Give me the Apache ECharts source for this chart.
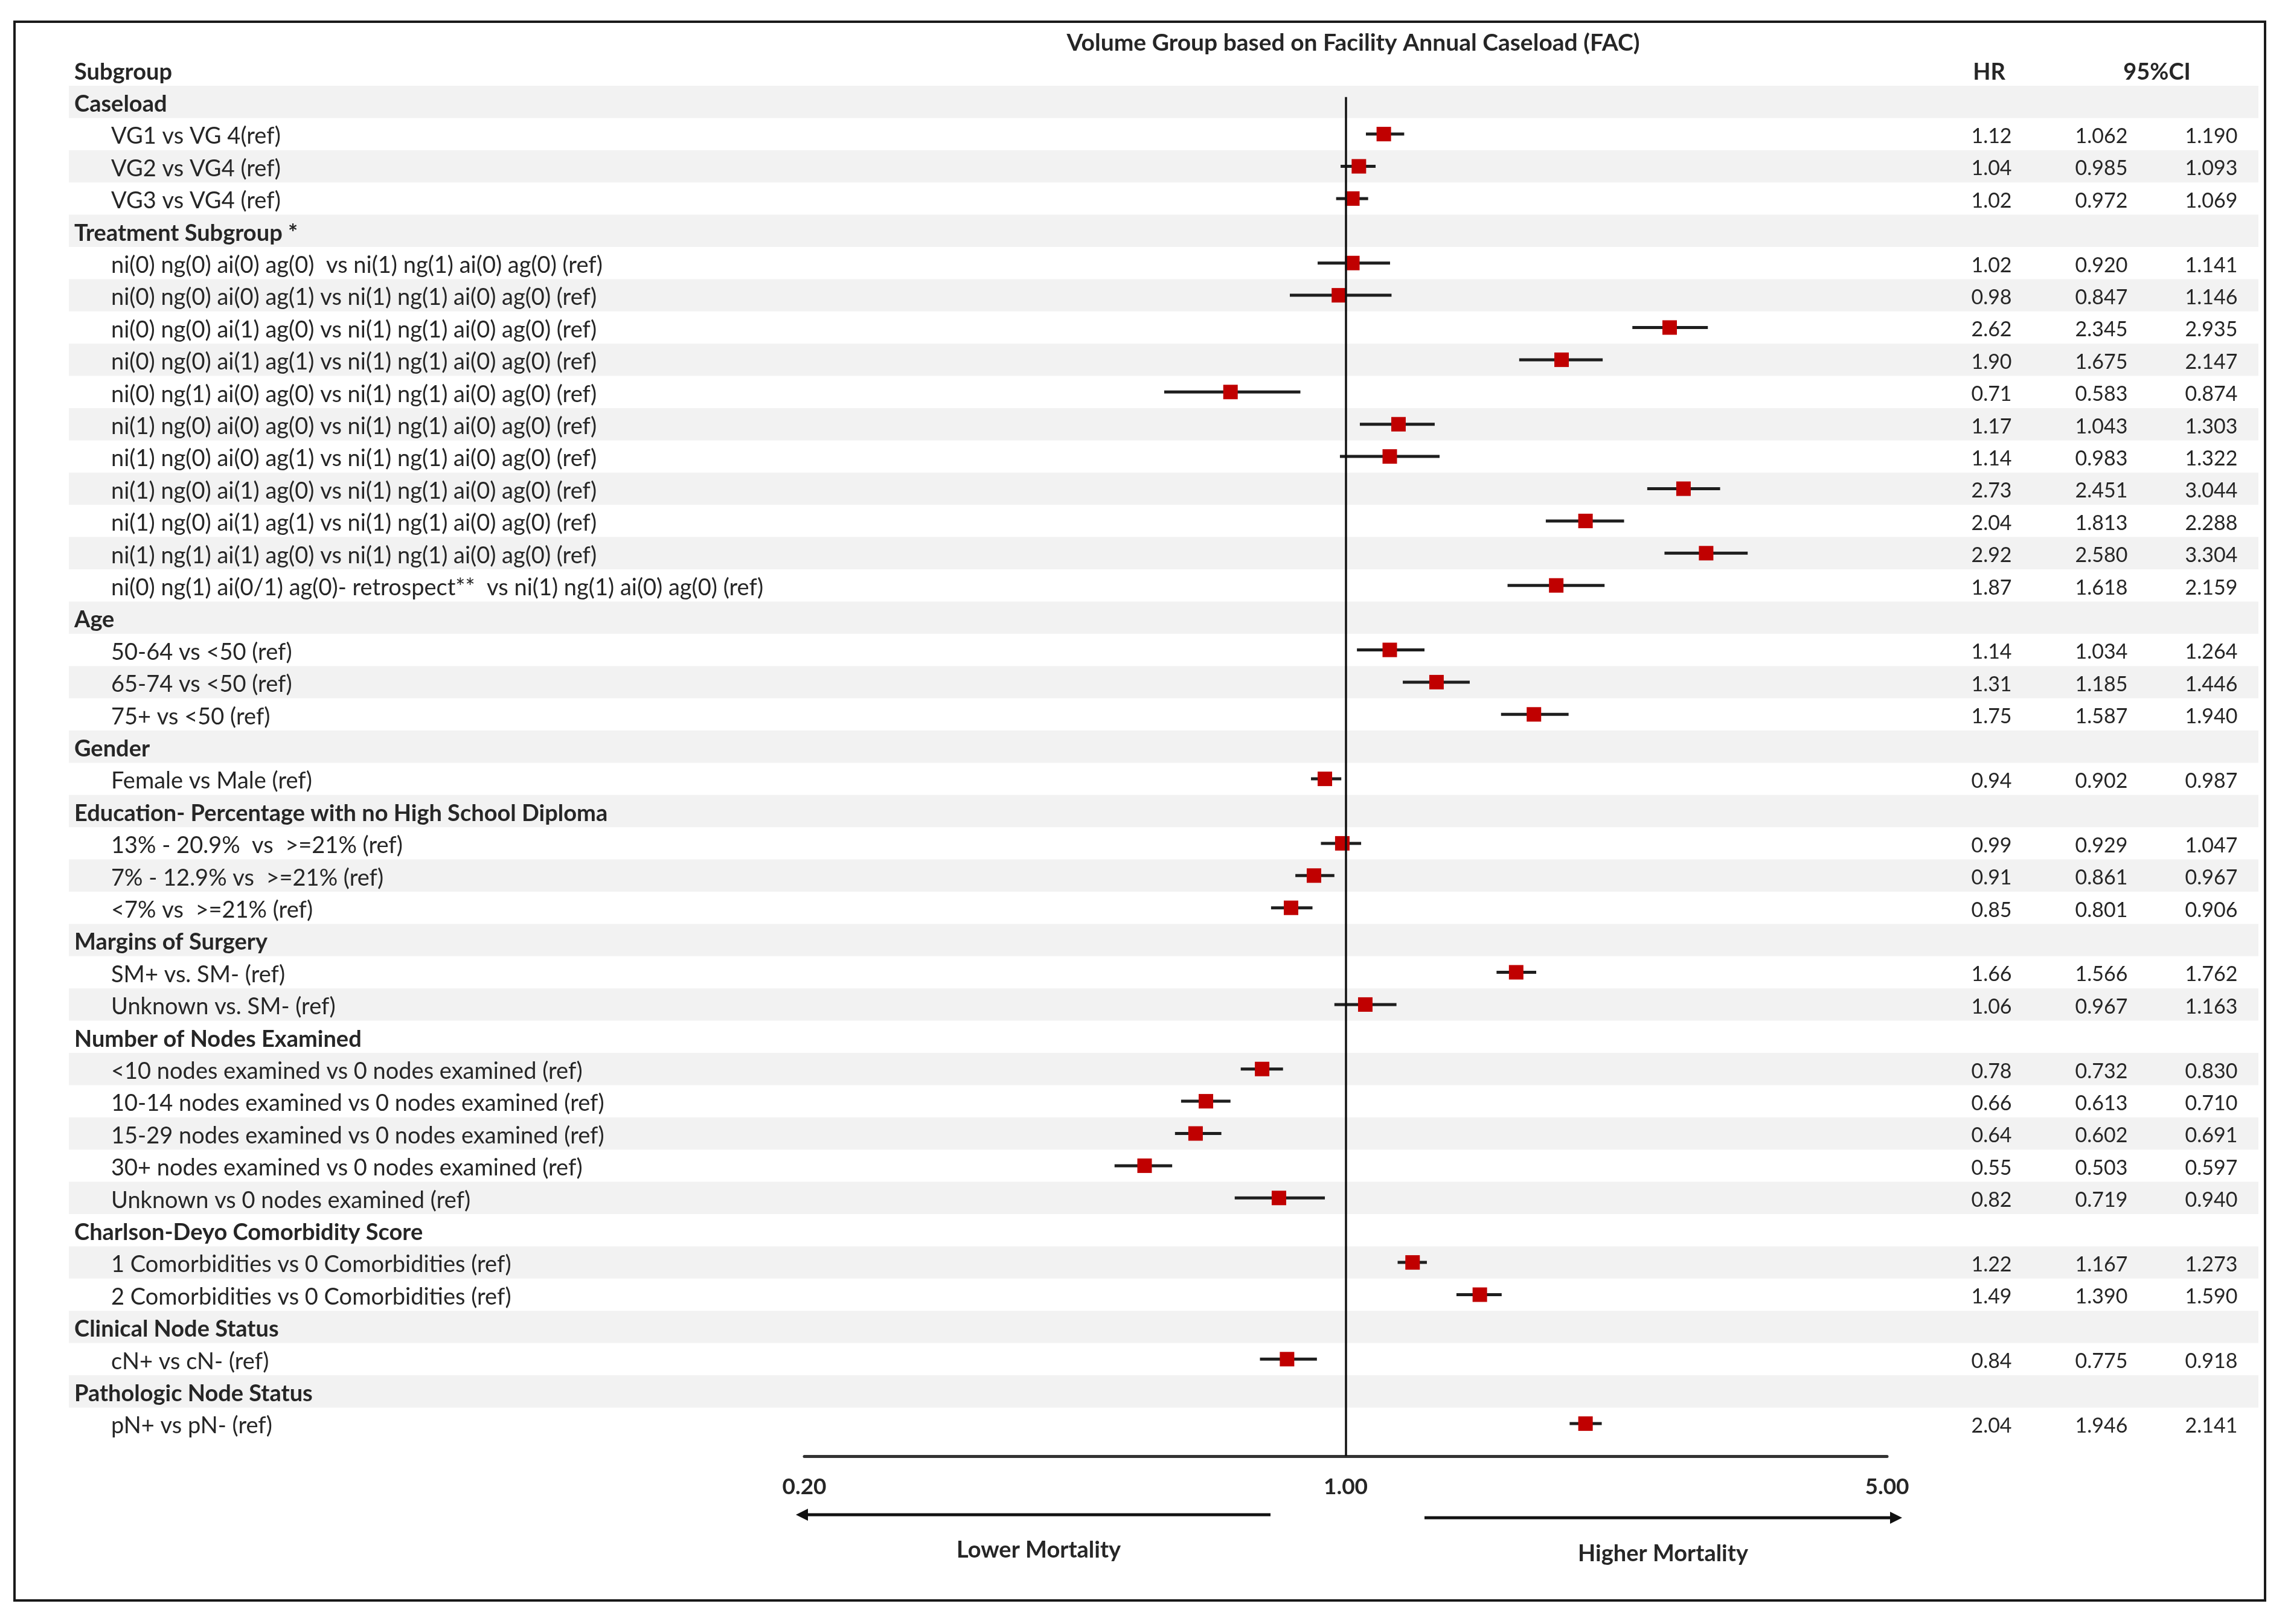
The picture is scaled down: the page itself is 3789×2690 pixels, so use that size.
<!DOCTYPE html>
<html>
<head>
<meta charset="utf-8">
<title>Forest plot - FAC volume groups</title>
<script src="https://cdn.jsdelivr.net/npm/echarts@6/dist/echarts.min.js"></script>
<style>
  html, body { margin: 0; padding: 0; background: #fff; }
  #chart { width: 3789px; height: 2690px; }
</style>
</head>
<body>
<div id="chart"></div>
<script>
// rows, top to bottom; a null HR marks a group header
const rowLabels = [
    "Caseload",
    "VG1 vs VG 4(ref)",
    "VG2 vs VG4 (ref)",
    "VG3 vs VG4 (ref)",
    "Treatment Subgroup *",
    "ni(0) ng(0) ai(0) ag(0)  vs ni(1) ng(1) ai(0) ag(0) (ref)",
    "ni(0) ng(0) ai(0) ag(1) vs ni(1) ng(1) ai(0) ag(0) (ref)",
    "ni(0) ng(0) ai(1) ag(0) vs ni(1) ng(1) ai(0) ag(0) (ref)",
    "ni(0) ng(0) ai(1) ag(1) vs ni(1) ng(1) ai(0) ag(0) (ref)",
    "ni(0) ng(1) ai(0) ag(0) vs ni(1) ng(1) ai(0) ag(0) (ref)",
    "ni(1) ng(0) ai(0) ag(0) vs ni(1) ng(1) ai(0) ag(0) (ref)",
    "ni(1) ng(0) ai(0) ag(1) vs ni(1) ng(1) ai(0) ag(0) (ref)",
    "ni(1) ng(0) ai(1) ag(0) vs ni(1) ng(1) ai(0) ag(0) (ref)",
    "ni(1) ng(0) ai(1) ag(1) vs ni(1) ng(1) ai(0) ag(0) (ref)",
    "ni(1) ng(1) ai(1) ag(0) vs ni(1) ng(1) ai(0) ag(0) (ref)",
    "ni(0) ng(1) ai(0/1) ag(0)- retrospect**  vs ni(1) ng(1) ai(0) ag(0) (ref)",
    "Age",
    "50-64 vs <50 (ref)",
    "65-74 vs <50 (ref)",
    "75+ vs <50 (ref)",
    "Gender",
    "Female vs Male (ref)",
    "Education- Percentage with no High School Diploma",
    "13% - 20.9%  vs  >=21% (ref)",
    "7% - 12.9% vs  >=21% (ref)",
    "<7% vs  >=21% (ref)",
    "Margins of Surgery",
    "SM+ vs. SM- (ref)",
    "Unknown vs. SM- (ref)",
    "Number of Nodes Examined",
    "<10 nodes examined vs 0 nodes examined (ref)",
    "10-14 nodes examined vs 0 nodes examined (ref)",
    "15-29 nodes examined vs 0 nodes examined (ref)",
    "30+ nodes examined vs 0 nodes examined (ref)",
    "Unknown vs 0 nodes examined (ref)",
    "Charlson-Deyo Comorbidity Score",
    "1 Comorbidities vs 0 Comorbidities (ref)",
    "2 Comorbidities vs 0 Comorbidities (ref)",
    "Clinical Node Status",
    "cN+ vs cN- (ref)",
    "Pathologic Node Status",
    "pN+ vs pN- (ref)"
];

const hr = [
    null, 1.12, 1.04, 1.02,
    null, 1.02, 0.98, 2.62, 1.90, 0.71, 1.17, 1.14, 2.73, 2.04, 2.92, 1.87,
    null, 1.14, 1.31, 1.75,
    null, 0.94,
    null, 0.99, 0.91, 0.85,
    null, 1.66, 1.06,
    null, 0.78, 0.66, 0.64, 0.55, 0.82,
    null, 1.22, 1.49,
    null, 0.84,
    null, 2.04
];

const ciLow = [
    null, 1.062, 0.985, 0.972,
    null, 0.920, 0.847, 2.345, 1.675, 0.583, 1.043, 0.983, 2.451, 1.813, 2.580, 1.618,
    null, 1.034, 1.185, 1.587,
    null, 0.902,
    null, 0.929, 0.861, 0.801,
    null, 1.566, 0.967,
    null, 0.732, 0.613, 0.602, 0.503, 0.719,
    null, 1.167, 1.390,
    null, 0.775,
    null, 1.946
];

const ciHigh = [
    null, 1.190, 1.093, 1.069,
    null, 1.141, 1.146, 2.935, 2.147, 0.874, 1.303, 1.322, 3.044, 2.288, 3.304, 2.159,
    null, 1.264, 1.446, 1.940,
    null, 0.987,
    null, 1.047, 0.967, 0.906,
    null, 1.762, 1.163,
    null, 0.830, 0.710, 0.691, 0.597, 0.940,
    null, 1.273, 1.590,
    null, 0.918,
    null, 2.141
];

const FONT = "Lato, 'Open Sans', sans-serif";
const TEXT = "#262626";
const FS = 38;       // labels, headers
const FS_NUM = 34;   // HR / CI columns

// layout (pixels)
const ROW_TOP = 142;      // top of first band
const ROW_H = 53.4;       // row pitch
const TEXT_DY = 4;        // text sits a little below the band centre
const AXIS_Y = 2412;      // y of the HR axis line
const nRows = rowLabels.length;
const yMaxPlot = 0.5 + (AXIS_Y - ROW_TOP) / ROW_H;

const tableRows = rowLabels.map((t, i) => [0, i + 1]);
const points = [];
const bars = [];
hr.forEach((v, i) => {
    if (v === null) return;
    points.push([v, i + 1]);
    bars.push([ciLow[i], ciHigh[i], i + 1]);
});

const chart = echarts.init(document.getElementById("chart"), null, { renderer: "canvas" });

const boldText = (txt, x, y) => ({
    type: "text", x: x, y: y,
    style: { text: txt, font: "bold " + FS + "px " + FONT, fill: TEXT, textAlign: "center", textVerticalAlign: "middle" }
});

const option = {
    backgroundColor: "#fff",
    animation: false,
    title: {
        text: "Volume Group based on Facility Annual Caseload (FAC)",
        left: 2236,
        top: 47,
        textAlign: "center",
        textStyle: { fontFamily: FONT, fontSize: 39, fontWeight: "bold", color: TEXT }
    },
    grid: [
        // table: bands + text
        { left: 114, right: 49, top: ROW_TOP, height: nRows * ROW_H },
        // forest plot
        { left: 1332, right: 664, top: ROW_TOP, height: AXIS_Y - ROW_TOP }
    ],
    xAxis: [
        { gridIndex: 0, type: "value", min: 0, max: 1, show: false },
        {
            gridIndex: 1,
            type: "log",
            logBase: 5,
            min: 0.2,
            max: 5,
            interval: 1,
            position: "bottom",
            axisLine: { show: true, lineStyle: { color: "#333", width: 5 } },
            axisTick: { show: false },
            splitLine: { show: false },
            axisLabel: {
                margin: 33,
                fontFamily: FONT,
                fontSize: 37,
                fontWeight: "bold",
                color: TEXT,
                formatter: v => v.toFixed(2)
            }
        }
    ],
    yAxis: [
        { gridIndex: 0, type: "value", min: 0.5, max: nRows + 0.5, inverse: true, show: false },
        { gridIndex: 1, type: "value", min: 0.5, max: yMaxPlot, inverse: true, show: false }
    ],
    graphic: [
        {
            type: "rect",
            shape: { x: 24, y: 36, width: 3727, height: 2615 },
            style: { fill: null, stroke: "#1a1a1a", lineWidth: 4 },
            z: 100
        },
        {
            type: "text", x: 123, y: 120,
            style: { text: "Subgroup", font: "bold " + FS + "px " + FONT, fill: TEXT, textAlign: "left", textVerticalAlign: "middle" }
        },
        boldText("HR", 3294, 120),
        boldText("95%CI", 3572, 120),
        // direction arrows
        {
            type: "line", shape: { x1: 2104, y1: 2509, x2: 1334, y2: 2509 },
            style: { stroke: "#111", lineWidth: 5 }
        },
        {
            type: "polygon", shape: { points: [[1318, 2509], [1338, 2499], [1338, 2519]] },
            style: { fill: "#111" }
        },
        {
            type: "line", shape: { x1: 2359, y1: 2514, x2: 3132, y2: 2514 },
            style: { stroke: "#111", lineWidth: 5 }
        },
        {
            type: "polygon", shape: { points: [[3150, 2514], [3130, 2504], [3130, 2524]] },
            style: { fill: "#111" }
        },
        boldText("Lower Mortality", 1720, 2568),
        boldText("Higher Mortality", 2754, 2574)
    ],
    series: [
        {
            // striped table with subgroup labels and HR / CI columns
            type: "custom",
            xAxisIndex: 0,
            yAxisIndex: 0,
            z: 1,
            silent: true,
            data: tableRows,
            encode: { x: 0, y: 1 },
            renderItem: (params, api) => {
                const i = params.dataIndex;
                const cs = params.coordSys;
                const y = api.coord([0, i + 1])[1];
                const h = api.size([0, 1])[1];
                const header = hr[i] === null;
                const right = cs.x + cs.width;
                const children = [];
                if (i % 2 === 0) {
                    children.push({
                        type: "rect",
                        shape: { x: cs.x, y: y - h / 2, width: cs.width, height: h },
                        style: { fill: "#f2f2f2" }
                    });
                }
                children.push({
                    type: "text",
                    style: {
                        text: rowLabels[i],
                        x: cs.x + (header ? 9 : 70),
                        y: y + TEXT_DY,
                        font: (header ? "bold " : "") + FS + "px " + FONT,
                        fill: TEXT,
                        textAlign: "left",
                        textVerticalAlign: "middle"
                    }
                });
                if (!header) {
                    const cols = [
                        [hr[i].toFixed(2), right - 442],
                        [ciLow[i].toFixed(3), right - 260],
                        [ciHigh[i].toFixed(3), right - 78]
                    ];
                    cols.forEach(c => {
                        children.push({
                            type: "text",
                            style: {
                                text: c[0],
                                x: c[1],
                                y: y + TEXT_DY,
                                font: FS_NUM + "px " + FONT,
                                fill: TEXT,
                                textAlign: "center",
                                textVerticalAlign: "middle"
                            }
                        });
                    });
                }
                return { type: "group", children: children };
            }
        },
        {
            // confidence intervals
            type: "custom",
            xAxisIndex: 1,
            yAxisIndex: 1,
            z: 3,
            data: bars,
            encode: { x: [0, 1], y: 2 },
            renderItem: (params, api) => {
                const p1 = api.coord([api.value(0), api.value(2)]);
                const p2 = api.coord([api.value(1), api.value(2)]);
                return {
                    type: "line",
                    shape: { x1: p1[0], y1: p1[1], x2: p2[0], y2: p2[1] },
                    style: { stroke: "#1e1e1e", lineWidth: 5 }
                };
            }
        },
        {
            type: "scatter",
            xAxisIndex: 1,
            yAxisIndex: 1,
            z: 4,
            symbol: "rect",
            symbolSize: 24,
            itemStyle: { color: "#c00000", opacity: 1 },
            data: points,
            markLine: {
                silent: true,
                symbol: ["none", "none"],
                label: { show: false },
                lineStyle: { color: "#111", width: 3.5, type: "solid" },
                data: [[{ coord: [1, 0.85] }, { coord: [1, yMaxPlot] }]]
            }
        }
    ]
};

chart.setOption(option);
</script>
</body>
</html>
